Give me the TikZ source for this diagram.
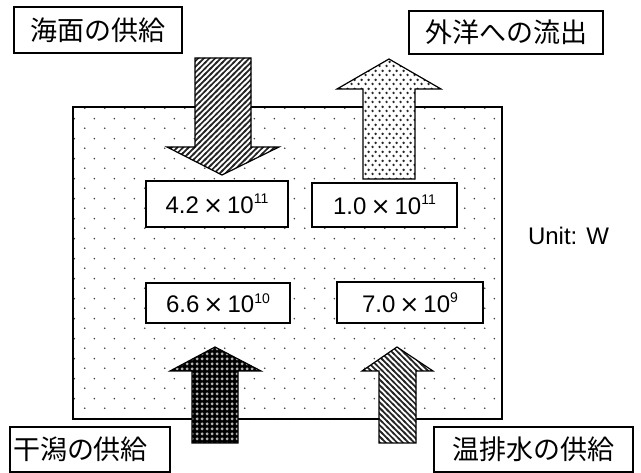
\documentclass[tikz,border=0pt]{standalone}
\usepackage{fontspec}
\setmainfont{Liberation Sans}
\newfontfamily\jpfont{Noto Sans CJK JP}
\newfontfamily\dvfont{DejaVu Sans}
\usetikzlibrary{patterns}
\pgfdeclarepatternformonly{bgdots}{\pgfpointorigin}{\pgfqpoint{20pt}{20pt}}{\pgfqpoint{20pt}{20pt}}{%
  \pgfpathcircle{\pgfqpoint{5pt}{5pt}}{0.9pt}%
  \pgfpathcircle{\pgfqpoint{15pt}{15pt}}{0.9pt}%
  \pgfusepath{fill}}
\pgfdeclarepatternformonly{densedots}{\pgfpointorigin}{\pgfqpoint{7pt}{9pt}}{\pgfqpoint{7pt}{9pt}}{%
  \pgfpathcircle{\pgfqpoint{1.75pt}{2.25pt}}{1.45pt}%
  \pgfpathcircle{\pgfqpoint{5.25pt}{6.75pt}}{1.45pt}%
  \pgfusepath{fill}}
\pgfdeclarepatternformonly{griddots}{\pgfpointorigin}{\pgfqpoint{4.6pt}{4.6pt}}{\pgfqpoint{4.6pt}{4.6pt}}{%
  \pgfpathcircle{\pgfqpoint{2.3pt}{2.3pt}}{1.7pt}%
  \pgfusepath{fill}}
\pgfdeclarepatternformonly{nelines}{\pgfqpoint{-2pt}{-2pt}}{\pgfqpoint{7.7pt}{7.7pt}}{\pgfqpoint{5.7pt}{5.7pt}}{%
  \pgfsetlinewidth{1.7pt}%
  \pgfpathmoveto{\pgfqpoint{-1pt}{-1pt}}\pgfpathlineto{\pgfqpoint{6.7pt}{6.7pt}}%
  \pgfusepath{stroke}}
\pgfdeclarepatternformonly{nwlines}{\pgfqpoint{-2pt}{-2pt}}{\pgfqpoint{7.7pt}{7.7pt}}{\pgfqpoint{5.7pt}{5.7pt}}{%
  \pgfsetlinewidth{1.7pt}%
  \pgfpathmoveto{\pgfqpoint{-1pt}{6.7pt}}\pgfpathlineto{\pgfqpoint{6.7pt}{-1pt}}%
  \pgfusepath{stroke}}
\newcommand\scinum[2]{#1\,{\dvfont ×}\,10\raisebox{9.5pt}{\fontsize{14}{14}\selectfont #2}}
\tikzset{
  jlabel/.style={draw, line width=1.3pt, fill=white, inner sep=0pt, font=\jpfont\fontsize{27}{27}\selectfont},
  numbox/.style={draw, line width=1.3pt, fill=white, inner sep=0pt, font=\fontsize{24}{24}\selectfont},
  bigarrow/.style={draw, line width=1.2pt, line join=miter},
  whitebase/.style={preaction={fill=white}}
}
\begin{document}
\begin{tikzpicture}[x=1pt,y=-1pt]
\useasboundingbox (0,0) rectangle (641,473);
% main region
\path[pattern=bgdots, pattern color=black!75] (73,107) rectangle (502,419);
\draw[line width=1.4pt] (73,107) rectangle (502,419);
% arrows
\draw[bigarrow, whitebase, pattern=nelines, pattern color=black!85]
  (195,58) -- (251,58) -- (251,147) -- (279,147) -- (222,175) -- (167,147) -- (195,147) -- cycle;
\draw[bigarrow, whitebase, pattern=densedots, pattern color=black!85]
  (363,179) -- (415,179) -- (415,89) -- (441,89) -- (389,59) -- (337,89) -- (363,89) -- cycle;
\draw[bigarrow, preaction={fill=black}, pattern=griddots, pattern color=white!70!black]
  (192,443) -- (238,443) -- (238,371) -- (261,371) -- (215,347) -- (170,371) -- (192,371) -- cycle;
\draw[bigarrow, whitebase, pattern=nwlines, pattern color=black!85]
  (379,443) -- (416,443) -- (416,371) -- (433,371) -- (397,347) -- (362,371) -- (379,371) -- cycle;
% value boxes
\node[numbox, minimum width=142pt, minimum height=46pt] (v1) at (217,204) {\scinum{4.2}{11}};
\node[numbox, minimum width=145pt, minimum height=44pt] (v2) at (384.5,205) {\scinum{1.0}{11}};
\node[numbox, minimum width=144pt, minimum height=40pt] (v3) at (218,303) {\scinum{6.6}{10}};
\node[numbox, minimum width=146pt, minimum height=41pt] (v4) at (410,302.5) {\scinum{7.0}{9}};
% labels
\node[jlabel, minimum width=168pt, minimum height=46pt] (l1) at (98,30) {海面の供給};
\node[jlabel, minimum width=194pt, minimum height=43pt] (l2) at (506,32.5) {外洋への流出};
\node[jlabel, text width=154pt, align=left, inner xsep=3pt, minimum height=45pt] (l3) at (90,449.5) {干潟の供給};
\node[jlabel, minimum width=199pt, minimum height=45pt] (l4) at (533.5,449.5) {温排水の供給};
\node[font=\fontsize{24}{24}\selectfont, inner sep=0pt] (unit) at (568.5,236) {Unit: W};
\end{tikzpicture}
\end{document}
